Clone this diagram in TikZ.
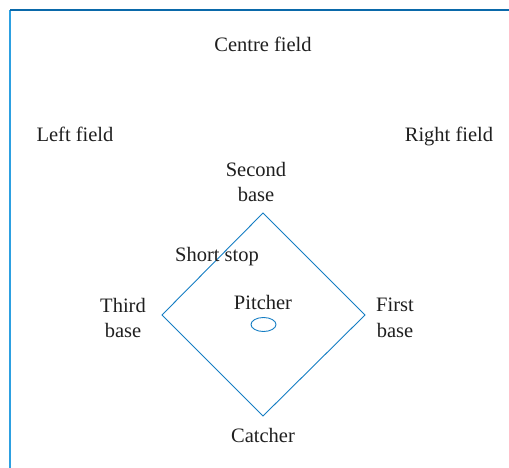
\documentclass[tikz,border=0pt]{standalone}
\usepackage{fontspec}
\setmainfont{Liberation Serif}
\usetikzlibrary{shapes.geometric}
\begin{document}
\begin{tikzpicture}[x=1pt,y=-1pt,
  lbl/.style={font=\fontsize{20.5}{25.5}\selectfont, align=center, text=black!88, inner sep=0pt},
  field/.style={draw=fieldblue, line width=0.9pt},
  frame/.style={line width=1.4pt}]
\definecolor{fieldblue}{RGB}{20,125,195}
\definecolor{frameblue}{RGB}{45,160,225}
\definecolor{topblue}{RGB}{10,105,170}
\useasboundingbox (0,0) rectangle (509,468);
% outfield frame
\coordinate (fl) at (10,468);
\coordinate (fc) at (10,10);
\coordinate (fr) at (509,10);
\draw[frame, draw=frameblue] (fl) -- (fc);
\draw[frame, draw=topblue] (fc) -- (fr);
% infield diamond
\coordinate (second) at (263,213);
\coordinate (first) at (365,315);
\coordinate (home) at (263,416);
\coordinate (third) at (162,315);
\draw[field, line join=miter] (second) -- (first) -- (home) -- (third) -- cycle;
% pitcher's mound
\node[field, ellipse, minimum width=25pt, minimum height=14pt, inner sep=0pt] (mound) at (263.5,324.5) {};
% labels
\node[lbl] (cf) at (263,44) {Centre field};
\node[lbl] (lf) at (75,134) {Left field};
\node[lbl] (rf) at (449,136) {Right field};
\node[lbl] (sb) at (256,182) {Second\\base};
\node[lbl] (ss) at (217,257) {Short stop};
\node[lbl] (tb) at (123,318) {Third\\base};
\node[lbl] (pi) at (263,302) {Pitcher};
\node[lbl] (fb) at (395,318) {First\\base};
\node[lbl] (ca) at (263,435) {Catcher};
\end{tikzpicture}
\end{document}
